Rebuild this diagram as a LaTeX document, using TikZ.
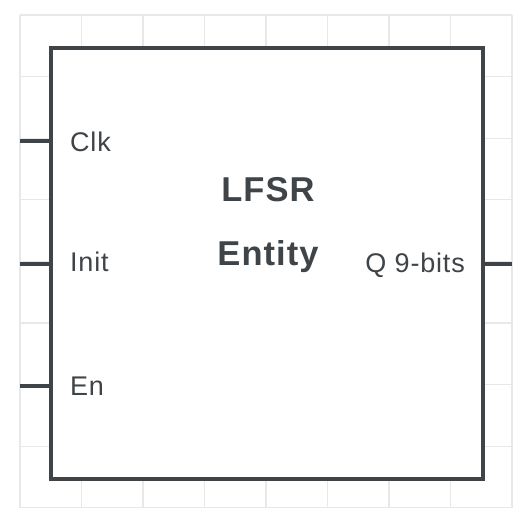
\documentclass[tikz,border=0pt]{standalone}
\usepackage{fontspec}
\setmainfont{Liberation Sans}
\newfontfamily\lblfont[LetterSpace=3]{Liberation Sans}
\definecolor{ink}{HTML}{3F4448}
\definecolor{gridc}{HTML}{E8E8E8}
\begin{document}
\begin{tikzpicture}[x=1pt,y=-1pt,
  gridline/.style={draw=gridc,line width=1.2pt},
  entity/.style={draw=ink,line width=4pt,minimum width=432pt,minimum height=430pt,inner sep=0pt,outer sep=0pt},
  pin/.style={draw=ink,line width=3.5pt},
  lbl/.style={text=ink,font=\lblfont\fontsize{27}{30}\selectfont,inner sep=0pt},
  title/.style={text=ink,font=\lblfont\bfseries\fontsize{34.5}{38}\selectfont,inner sep=0pt}]
\useasboundingbox (0,0) rectangle (522,529);
\fill[white] (0,0) rectangle (522,529);
\foreach \i in {0,...,8}{
  \draw[gridline] (20+61.5*\i,15) -- (20+61.5*\i,508);
  \draw[gridline] (20,15+61.6*\i) -- (512,15+61.6*\i);
}
\node[entity,fill=white,anchor=north west] (box) at (51,48.5) {};
\coordinate (clkin) at (20,141);
\coordinate (initin) at (20,264);
\coordinate (enin) at (20,386);
\coordinate (qout) at (512,264);
\draw[pin] (clkin) -- (clkin -| box.west);
\draw[pin] (initin) -- (initin -| box.west);
\draw[pin] (enin) -- (enin -| box.west);
\draw[pin] (qout -| box.east) -- (qout);
\node[entity,anchor=north west] at (51,48.5) {};
\node[lbl,anchor=base west] (clk) at (70,151.7) {Clk};
\node[lbl,anchor=base west] (init) at (70,271.7) {Init};
\node[lbl,anchor=base west] (en) at (70,395.3) {En};
\node[lbl,anchor=base east] (q) at (465,272.3) {Q 9-bits};
\node[title,anchor=base] (t1) at (268,201) {LFSR};
\node[title,anchor=base] (t2) at (268,265) {Entity};
\end{tikzpicture}
\end{document}
